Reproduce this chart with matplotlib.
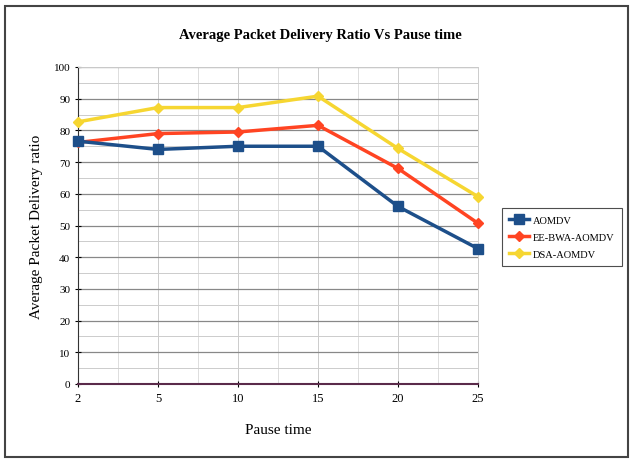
import matplotlib
matplotlib.use("Agg")
import matplotlib.pyplot as plt
from matplotlib.patches import Rectangle
from matplotlib.ticker import MultipleLocator

categories = ["2", "5", "10", "15", "20", "25"]
aomdv = [76.6, 74.0, 75.0, 75.0, 56.0, 42.7]
ee_bwa = [76.2, 79.0, 79.5, 81.6, 68.0, 50.7]
dsa = [82.7, 87.2, 87.2, 90.8, 74.3, 59.1]
series_names = ["AOMDV", "EE-BWA-AOMDV", "DSA-AOMDV"]

plt.rcParams['font.family'] = ['Liberation Serif', 'DejaVu Serif']

fig = plt.figure(figsize=(6.32, 4.60), dpi=100)
ax = fig.add_axes([78/632, 1-385/460, 400/632, 317/460])

x = list(range(len(categories)))
ax.plot(x, aomdv, color="#1d4f8a", lw=2.5, marker="s", ms=7, label=series_names[0], zorder=5, clip_on=False)
ax.plot(x, ee_bwa, color="#ff4422", lw=2.5, marker="D", ms=5, label=series_names[1], zorder=4, clip_on=False)
ax.plot(x, dsa, color="#f6d631", lw=2.5, marker="D", ms=5, label=series_names[2], zorder=3, clip_on=False)

ax.set_xlim(0, len(categories) - 1)
ax.set_ylim(0, 100)
ax.set_xticks(x)
ax.set_xticklabels(categories, fontsize=9)
ax.yaxis.set_major_locator(MultipleLocator(10))
ax.yaxis.set_minor_locator(MultipleLocator(5))
ax.xaxis.set_minor_locator(MultipleLocator(0.5))
ax.tick_params(axis='y', labelsize=8, length=4, direction='inout')
ax.tick_params(axis='x', length=4, direction='inout')
ax.tick_params(which='minor', length=0)
ax.grid(which='major', axis='y', color="#888888", lw=0.9)
ax.grid(which='minor', axis='y', color="#cccccc", lw=0.7)
ax.grid(which='major', axis='x', color="#cccccc", lw=0.7)
ax.grid(which='minor', axis='x', color="#dddddd", lw=0.7)
ax.set_axisbelow(True)
for s in ["top", "right"]:
    ax.spines[s].set_color("#cccccc")
    ax.spines[s].set_linewidth(0.7)
ax.spines["left"].set_color("#333333")
ax.spines["bottom"].set_color("#5a2a4a")
ax.spines["bottom"].set_linewidth(1.5)

fig.text(320/632, 1-36/460, "Average Packet Delivery Ratio Vs Pause time", fontsize=10.5,
         fontweight="bold", ha="center", va="center")
ax.set_xlabel("Pause time", fontsize=11, labelpad=14)
ax.set_ylabel("Average Packet Delivery ratio", fontsize=11, labelpad=8)

leg = fig.legend(loc="upper left", bbox_to_anchor=(502/632, 1-209/460),
                 fontsize=7.5, frameon=True, fancybox=False, edgecolor="#222222",
                 handlelength=1.9, handletextpad=0.35, borderpad=0.7, labelspacing=0.75,
                 borderaxespad=0)
leg.get_frame().set_linewidth(0.8)

fig.patches.append(Rectangle((5/632, 2/460), 623/632, 451/460, transform=fig.transFigure,
                             fill=False, edgecolor="#444444", lw=1.5))

fig.savefig("out.png", dpi=100)
